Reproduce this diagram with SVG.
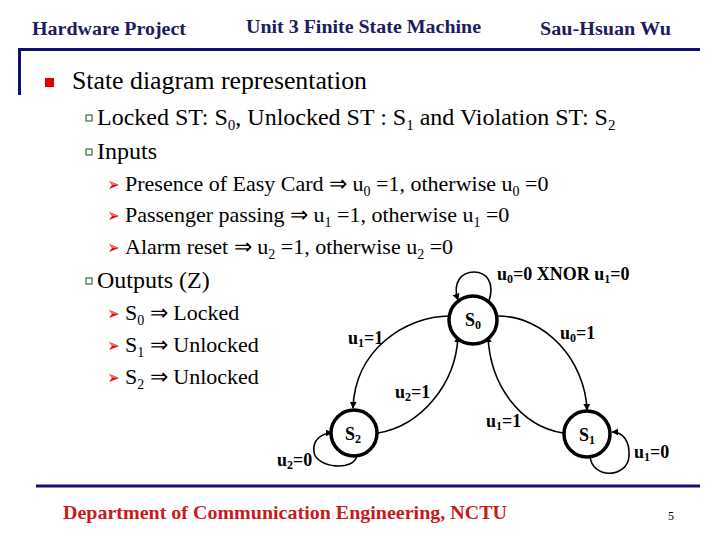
<svg xmlns="http://www.w3.org/2000/svg" width="720" height="540" viewBox="0 0 720 540">
<style>
.hdr{font-family:"Liberation Serif","Times New Roman",serif;font-weight:bold;font-size:18px;fill:#1c1c5e}
.t1{font-family:"Liberation Serif","Times New Roman",serif;font-size:26px;fill:#000}
.t2{font-family:"Liberation Serif","Times New Roman",serif;font-size:24px;fill:#000}
.t3{font-family:"Liberation Serif","Times New Roman",serif;font-size:22px;fill:#000}
.sub{font-size:15px}
.sub3{font-size:14px}
.lbl{font-family:"Liberation Serif","Times New Roman",serif;font-weight:bold;font-size:18px;fill:#000}
.lsub{font-size:12px}
.node{fill:#fff;stroke:#000;stroke-width:3.5}
.edge{fill:none;stroke:#000;stroke-width:1.6}
.qb{fill:#fff;stroke:#3a6a3a;stroke-width:1.2}
.foot{font-family:"Liberation Serif","Times New Roman",serif;font-weight:bold;font-size:19px;fill:#c81a1a}
</style>
<defs>
<marker id="ah" viewBox="0 0 10 10" refX="9" refY="5" markerWidth="7" markerHeight="7" markerUnits="userSpaceOnUse" orient="auto">
<path d="M0,0 L10,5 L0,10 z" fill="#000"/>
</marker>
<symbol id="arrowBullet" viewBox="0 0 10 10">
<path d="M0,1 L10,5 L0,9 L3,5 z" fill="#d01010"/>
<path d="M0,1 L10,5 L3,5 z" fill="#ff6060"/>
</symbol>
</defs>
<rect width="720" height="540" fill="#fff"/>

<!-- header -->
<text class="hdr" x="32" y="35" textLength="154" lengthAdjust="spacingAndGlyphs">Hardware Project</text>
<text class="hdr" x="246" y="33" textLength="235" lengthAdjust="spacingAndGlyphs">Unit 3 Finite State Machine</text>
<text class="hdr" x="540" y="35" textLength="131" lengthAdjust="spacingAndGlyphs">Sau-Hsuan Wu</text>
<path d="M19.5,95 V49.5 H700" fill="none" stroke="#10106a" stroke-width="3"/>

<!-- body text -->
<rect x="45" y="78" width="9" height="9" fill="#e00000"/>
<text class="t1" x="72" y="89" textLength="295" lengthAdjust="spacingAndGlyphs">State diagram representation</text>

<rect class="qb" x="86" y="115" width="6" height="6"/>
<text class="t2" x="97" y="125">Locked ST: S<tspan class="sub" dy="5">0</tspan><tspan dy="-5">, Unlocked ST : S</tspan><tspan class="sub" dy="5">1</tspan><tspan dy="-5"> and Violation ST: S</tspan><tspan class="sub" dy="5">2</tspan></text>
<rect class="qb" x="86" y="149" width="6" height="6"/>
<text class="t2" x="97" y="159">Inputs</text>

<use href="#arrowBullet" x="109" y="180" width="10" height="10"/>
<text class="t3" x="125" y="191">Presence of Easy Card ⇒ u<tspan class="sub3" dy="5">0</tspan><tspan dy="-5"> =1, otherwise u</tspan><tspan class="sub3" dy="5">0</tspan><tspan dy="-5"> =0</tspan></text>
<use href="#arrowBullet" x="109" y="211" width="10" height="10"/>
<text class="t3" x="125" y="222">Passenger passing ⇒ u<tspan class="sub3" dy="5">1</tspan><tspan dy="-5"> =1, otherwise u</tspan><tspan class="sub3" dy="5">1</tspan><tspan dy="-5"> =0</tspan></text>
<use href="#arrowBullet" x="109" y="243" width="10" height="10"/>
<text class="t3" x="125" y="254">Alarm reset ⇒ u<tspan class="sub3" dy="5">2</tspan><tspan dy="-5"> =1, otherwise u</tspan><tspan class="sub3" dy="5">2</tspan><tspan dy="-5"> =0</tspan></text>

<rect class="qb" x="86" y="278" width="6" height="6"/>
<text class="t2" x="97" y="288">Outputs (Z)</text>
<use href="#arrowBullet" x="109" y="309" width="10" height="10"/>
<text class="t3" x="125" y="320">S<tspan class="sub3" dy="5">0</tspan><tspan dy="-5"> ⇒ Locked</tspan></text>
<use href="#arrowBullet" x="109" y="341" width="10" height="10"/>
<text class="t3" x="125" y="352">S<tspan class="sub3" dy="5">1</tspan><tspan dy="-5"> ⇒ Unlocked</tspan></text>
<use href="#arrowBullet" x="109" y="373" width="10" height="10"/>
<text class="t3" x="125" y="384">S<tspan class="sub3" dy="5">2</tspan><tspan dy="-5"> ⇒ Unlocked</tspan></text>

<!-- connectors -->
<g id="connectors">
<path class="edge" marker-end="url(#ah)" d="M489,301 C495,282 486,272 474,272 C462,272 452,282 458,300"/>
<path class="edge" marker-end="url(#ah)" d="M450,316 C405,316 355,350 353,408"/>
<path class="edge" marker-end="url(#ah)" d="M378,433 C420,426 456,385 458,336"/>
<path class="edge" marker-end="url(#ah)" d="M498,316 C545,316 585,360 587,410"/>
<path class="edge" marker-end="url(#ah)" d="M563,433 C520,426 490,385 488,336"/>
<path class="edge" marker-end="url(#ah)" d="M590,456 C592,480 628,478 629,456 C630,440 622,432 612,432"/>
<path class="edge" marker-end="url(#ah)" d="M357,455 C355,472 316,468 314,452 C312,440 322,433 332,433"/>
</g>

<!-- nodes -->
<g id="S0">
<circle class="node" cx="473" cy="320" r="24"/>
<text class="lbl" x="465" y="326">S<tspan class="lsub" dy="3">0</tspan></text>
</g>
<g id="S2">
<circle class="node" cx="354" cy="433" r="23"/>
<text class="lbl" x="345" y="440">S<tspan class="lsub" dy="3">2</tspan></text>
</g>
<g id="S1">
<circle class="node" cx="587" cy="434" r="23"/>
<text class="lbl" x="579" y="441">S<tspan class="lsub" dy="3">1</tspan></text>
</g>

<!-- edge labels -->
<text class="lbl" x="497" y="280">u<tspan class="lsub" dy="3">0</tspan><tspan dy="-3">=0 XNOR u</tspan><tspan class="lsub" dy="3">1</tspan><tspan dy="-3">=0</tspan></text>
<text class="lbl" x="348" y="344">u<tspan class="lsub" dy="3">1</tspan><tspan dy="-3">=1</tspan></text>
<text class="lbl" x="560" y="339">u<tspan class="lsub" dy="3">0</tspan><tspan dy="-3">=1</tspan></text>
<text class="lbl" x="395" y="398">u<tspan class="lsub" dy="3">2</tspan><tspan dy="-3">=1</tspan></text>
<text class="lbl" x="486" y="427">u<tspan class="lsub" dy="3">1</tspan><tspan dy="-3">=1</tspan></text>
<text class="lbl" x="277" y="466">u<tspan class="lsub" dy="3">2</tspan><tspan dy="-3">=0</tspan></text>
<text class="lbl" x="634" y="458">u<tspan class="lsub" dy="3">1</tspan><tspan dy="-3">=0</tspan></text>

<!-- footer -->
<line x1="36" y1="486" x2="700" y2="486" stroke="#10106a" stroke-width="3"/>
<text class="foot" x="63" y="519" textLength="444" lengthAdjust="spacingAndGlyphs">Department of Communication Engineering, NCTU</text>
<text x="668" y="520" font-family="Liberation Serif, serif" font-size="12" fill="#000">5</text>
</svg>
